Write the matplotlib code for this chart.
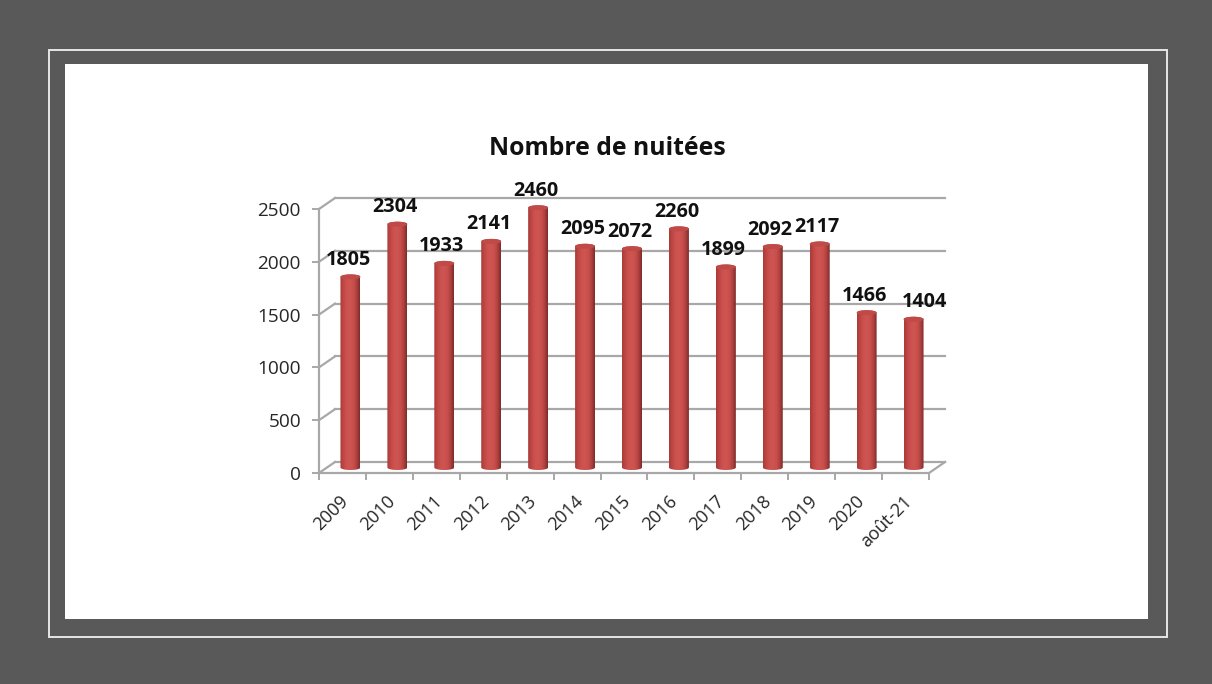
import numpy as np
import matplotlib.pyplot as plt
from matplotlib.colors import LinearSegmentedColormap
from matplotlib.patches import Ellipse, Rectangle
from matplotlib.path import Path
from matplotlib.transforms import ScaledTranslation

categories = ['2009', '2010', '2011', '2012', '2013', '2014', '2015', '2016',
              '2017', '2018', '2019', '2020', 'août-21']
nuitees = [1805, 2304, 1933, 2141, 2460, 2095, 2072, 2260, 1899, 2092, 2117, 1466, 1404]
y_ticks = [0, 500, 1000, 1500, 2000, 2500]

W, H = 1212, 684
plt.rcParams['font.family'] = ['Open Sans', 'DejaVu Sans']

fig = plt.figure(figsize=(W / 100, H / 100), dpi=100, facecolor='#595959')


def px_rect(x0, y0, x1, y1, **kw):
    # rectangle given in image pixels, y going down, kept behind the axes
    fig.add_artist(Rectangle((x0 / W, 1 - y1 / H), (x1 - x0) / W, (y1 - y0) / H,
                             transform=fig.transFigure, zorder=-1, **kw))


px_rect(48.5, 49.5, 1166.5, 636.5, facecolor='none', edgecolor='#e6e6e6', linewidth=1.4)
px_rect(65, 64, 1148, 619, facecolor='white', edgecolor='none')

# front plane of the fake 3D box
ax = fig.add_axes([319 / W, 1 - 473 / H, 610 / W, 264 / H])
ax.patch.set_visible(False)
n = len(categories)
ax.set_xlim(-0.5, n - 0.5)
ax.set_ylim(0, 2500)

# depth of the box, in data units
px_x = n / 610
px_y = 2500 / 264
dx = 16 * px_x
dy = 11 * px_y

grey = '#a8a8a8'
for v in y_ticks:
    ax.plot([-0.5 + dx, n - 0.5 + dx], [v + dy, v + dy], color=grey, lw=1.6, clip_on=False, zorder=1)
    ax.plot([-0.5, -0.5 + dx], [v, v + dy], color=grey, lw=1.6, clip_on=False, zorder=1)
ax.plot([n - 0.5, n - 0.5 + dx], [0, dy], color=grey, lw=1.6, clip_on=False, zorder=1)

# cylinders: horizontal gradient clipped to the body outline
cyl = LinearSegmentedColormap.from_list('cyl', ['#a83c39', '#bf4744', '#cc5250', '#cf5552',
                                                '#c94f4c', '#b04240', '#7f2b29'])
grad = np.linspace(0, 1, 64).reshape(1, -1)
half_w = 10 * px_x
cap_h = 2.5 * px_y
t = np.linspace(0, np.pi, 30)

for i, v in enumerate(nuitees):
    xc = i + dx / 2
    base = dy / 2
    top = base + v
    lower_x = xc - half_w * np.cos(t)
    lower_y = base - cap_h * np.sin(t)
    upper_x = xc + half_w * np.cos(t)
    upper_y = top + cap_h * np.sin(t)
    outline = Path(np.column_stack([np.r_[lower_x, upper_x], np.r_[lower_y, upper_y]]))
    im = ax.imshow(grad, extent=(xc - half_w, xc + half_w, base - cap_h, top + cap_h),
                   aspect='auto', cmap=cyl, zorder=3)
    im.set_clip_box(fig.bbox)
    im.set_clip_path(outline, transform=ax.transData)
    ax.add_patch(Ellipse((xc, top), 2 * half_w, 2 * cap_h, facecolor='#bf4a47',
                         edgecolor='none', zorder=4, clip_on=False))
    shift = 11 if i == n - 1 else -2.5
    ax.annotate(str(v), (xc, top), xytext=(shift, 7), textcoords='offset pixels',
                ha='center', va='bottom', fontsize=14.2, fontweight='bold',
                color='#111111', zorder=5, annotation_clip=False)

ax.set_xlim(-0.5, n - 0.5)
ax.set_ylim(0, 2500)

for side in ['top', 'right']:
    ax.spines[side].set_visible(False)
for side in ['left', 'bottom']:
    ax.spines[side].set_color(grey)
    ax.spines[side].set_linewidth(1.6)

ax.set_yticks(y_ticks)
ax.set_xticks(np.arange(n + 1) - 0.5)
ax.set_xticklabels([])
ax.set_xticks(np.arange(n), labels=categories, minor=True)
ax.tick_params(axis='x', which='major', length=5, width=1.4, color=grey)
ax.tick_params(axis='x', which='minor', length=0, pad=14, labelsize=13, labelcolor='#262626')
ax.tick_params(axis='y', length=5, width=1.4, color=grey, pad=8, labelsize=13.7, labelcolor='#262626')
nudge = ScaledTranslation(-3 / 100, 0, fig.dpi_scale_trans)
for lab in ax.get_xticklabels(minor=True):
    lab.set_rotation(45)
    lab.set_ha('right')
    lab.set_rotation_mode('anchor')
    lab.set_transform(lab.get_transform() + nudge)

fig.text(607 / W, 1 - 148.5 / H, 'Nombre de nuitées', ha='center', va='center',
         fontsize=17.8, fontweight='bold', color='#111111')

fig.savefig('out.png', dpi=100, facecolor=fig.get_facecolor())
